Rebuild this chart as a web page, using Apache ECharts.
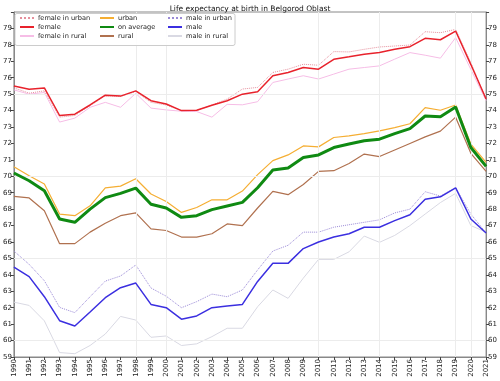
<!DOCTYPE html>
<html>
<head>
<meta charset="utf-8">
<script src="https://cdn.jsdelivr.net/npm/echarts@6/dist/echarts.min.js"></script>
<style>
html,body{margin:0;padding:0;background:#fff;}
#chart{width:500px;height:381px;}
</style>
</head>
<body>
<div id="chart"></div>
<script>
const years = [1990,1991,1992,1993,1994,1995,1996,1997,1998,1999,2000,2001,2002,2003,2004,2005,2006,2007,2008,2009,2010,2011,2012,2013,2014,2015,2016,2017,2018,2019,2020,2021];

const femaleUrban = [75.38,75.06,75.2,73.6,73.7,74.3,74.9,74.86,75.16,74.5,74.34,74.0,74.0,74.34,74.7,75.31,75.41,76.32,76.52,76.82,76.76,77.59,77.57,77.73,77.87,77.93,77.99,78.8,78.74,78.94,76.9,74.7];
const female = [75.5,75.3,75.38,73.7,73.78,74.34,74.94,74.88,75.2,74.6,74.4,74.0,74.02,74.32,74.6,75.0,75.15,76.12,76.32,76.62,76.52,77.12,77.27,77.43,77.53,77.73,77.89,78.4,78.31,78.84,76.8,74.7];
const femaleRural = [75.26,75.0,75.1,73.3,73.54,74.2,74.5,74.2,75.05,74.15,74.04,73.96,73.94,73.6,74.38,74.35,74.54,75.71,75.92,76.12,75.92,76.22,76.52,76.62,76.72,77.13,77.53,77.37,77.19,78.44,76.5,74.6];

const urban = [70.58,70.03,69.53,67.7,67.6,68.2,69.3,69.4,69.85,68.92,68.47,67.8,68.1,68.57,68.57,69.1,70.1,70.95,71.3,71.85,71.79,72.36,72.46,72.6,72.76,72.96,73.2,74.18,74.02,74.34,71.96,70.85];
const average = [70.2,69.73,69.12,67.4,67.2,68.0,68.7,68.96,69.28,68.3,68.07,67.5,67.6,67.97,68.19,68.41,69.3,70.38,70.5,71.14,71.3,71.75,71.96,72.16,72.26,72.6,72.9,73.67,73.63,74.22,71.75,70.6];
const rural = [68.78,68.68,67.9,65.9,65.9,66.6,67.14,67.6,67.77,66.8,66.7,66.3,66.3,66.5,67.1,67.0,68.07,69.08,68.88,69.5,70.3,70.34,70.78,71.35,71.2,71.6,72.0,72.4,72.75,73.6,71.4,70.3];

const maleUrban = [65.45,64.64,63.64,62.02,61.7,62.67,63.62,63.93,64.6,63.2,62.7,62.0,62.37,62.83,62.67,63.08,64.3,65.45,65.8,66.6,66.6,66.9,67.05,67.2,67.35,67.77,68.0,69.06,68.8,69.3,67.7,66.55];
const male = [64.47,63.89,62.67,61.21,60.89,61.74,62.61,63.22,63.5,62.2,62.0,61.3,61.5,62.0,62.1,62.2,63.6,64.7,64.7,65.6,66.0,66.3,66.5,66.9,66.9,67.3,67.66,68.6,68.75,69.3,67.4,66.55];
const maleRural = [62.34,62.14,61.2,59.27,59.2,59.7,60.4,61.47,61.25,60.2,60.28,59.7,59.8,60.24,60.75,60.75,62.06,63.08,62.57,63.8,64.94,64.94,65.4,66.36,65.98,66.4,67.0,67.7,68.4,68.96,67.0,66.6];

const gridYears = [1998,2000,2010,2014,2019,2020];
const gridValues = [60,65,70,75];

const FONT = 'DejaVu Sans';

function mk(name, arr, color, width, type, z) {
  return {
    name: name,
    type: 'line',
    data: years.map((y, i) => [y, arr[i]]),
    symbol: 'none',
    showSymbol: false,
    lineStyle: { color: color, width: width, type: type || 'solid' },
    itemStyle: { color: color },
    z: z || 2,
    animation: false
  };
}

const series = [
  mk('male in rural', maleRural, '#d9d9e3', 1, 'solid', 2),
  mk('female in rural', femaleRural, '#f6bde6', 1, 'solid', 2),
  mk('male in urban', maleUrban, '#9a8ad6', 1, 'dotted', 3),
  mk('female in urban', femaleUrban, '#e58f9c', 1, 'dotted', 3),
  mk('rural', rural, '#b0714f', 1.2, 'solid', 4),
  mk('urban', urban, '#f5ae33', 1.2, 'solid', 4),
  mk('male', male, '#3b2fe0', 1.5, 'solid', 5),
  mk('female', female, '#e8222c', 1.5, 'solid', 5),
  mk('on average', average, '#0f8a12', 3, 'solid', 6)
];

series.push({
  type: 'line',
  data: [],
  silent: true,
  z: 1,
  markLine: {
    silent: true,
    symbol: 'none',
    label: { show: false },
    lineStyle: { color: '#ececec', width: 1, type: 'solid' },
    animation: false,
    data: gridYears.map(x => ({ xAxis: x })).concat(gridValues.map(v => ({ yAxis: v })))
  }
});

const legendCommon = {
  orient: 'vertical',
  top: 14.5,
  itemWidth: 14,
  itemHeight: 8,
  itemGap: 2,
  z: 20,
  selectedMode: false,
  itemStyle: { color: 'rgba(0,0,0,0)', borderWidth: 0, opacity: 0 },
  textStyle: { fontFamily: FONT, fontSize: 6.6, color: '#222', padding: [0, 0, 0, -1] },
  padding: 0
};

const option = {
  animation: false,
  backgroundColor: '#fff',
  title: {
    text: 'Life expectancy at birth in Belgorod Oblast',
    left: 'center',
    top: 0,
    textStyle: { fontFamily: FONT, fontSize: 7.5, fontWeight: 'normal', color: '#111' }
  },
  grid: { left: 13, right: 12, top: 12, bottom: 24, show: true, borderColor: '#888', borderWidth: 1 },
  graphic: [{
    type: 'rect',
    shape: { x: 15, y: 13.5, width: 220, height: 32, r: 2 },
    style: { fill: 'rgba(255,255,255,0.9)', stroke: '#cccccc', lineWidth: 1 },
    z: 15
  }],
  legend: [
    Object.assign({}, legendCommon, { left: 19, data: ['female in urban', 'female', 'female in rural'] }),
    Object.assign({}, legendCommon, { left: 99, data: ['urban', 'on average', 'rural'] }),
    Object.assign({}, legendCommon, { left: 167, data: ['male in urban', 'male', 'male in rural'] })
  ],
  xAxis: {
    type: 'value',
    min: 1990, max: 2021, interval: 1,
    axisLine: { show: true, lineStyle: { color: '#888' } },
    axisTick: { show: true, length: 3, lineStyle: { color: '#444' } },
    splitLine: { show: false },
    axisLabel: { rotate: 90, fontFamily: FONT, fontSize: 7, color: '#222', margin: 2, formatter: v => String(v) }
  },
  yAxis: [
    {
      type: 'value', min: 59, max: 80, interval: 1, position: 'left',
      axisLine: { show: true, lineStyle: { color: '#888' } },
      axisTick: { show: true, length: 3, lineStyle: { color: '#444' } },
      splitLine: { show: false },
      axisLabel: { fontFamily: FONT, fontSize: 7, color: '#222', margin: 2, formatter: v => (v >= 80 ? '' : String(v)) }
    },
    {
      type: 'value', min: 59, max: 80, interval: 1, position: 'right',
      axisLine: { show: true, lineStyle: { color: '#888' } },
      axisTick: { show: true, length: 3, lineStyle: { color: '#444' } },
      splitLine: { show: false },
      axisLabel: { fontFamily: FONT, fontSize: 7, color: '#222', margin: 2, formatter: v => (v >= 80 ? '' : String(v)) }
    }
  ],
  series: series
};

const chart = echarts.init(document.getElementById('chart'), null, { renderer: 'canvas' });
chart.setOption(option);
</script>
</body>
</html>
